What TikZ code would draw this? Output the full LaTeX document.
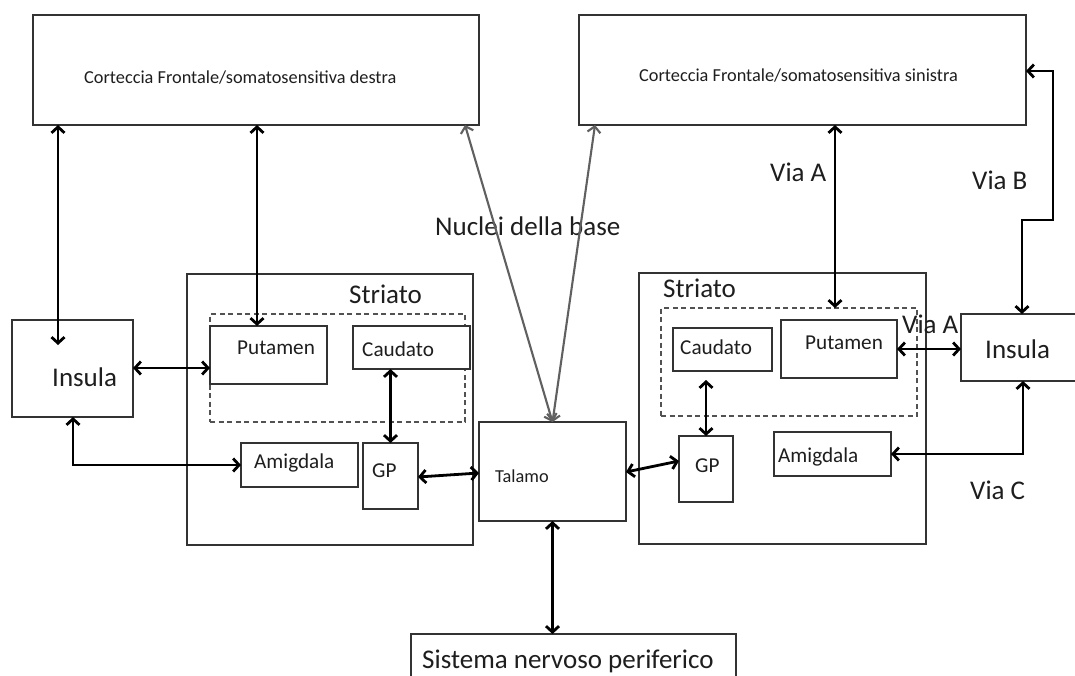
\documentclass[tikz,border=0pt]{standalone}
\usepackage{fontspec}
\setmainfont{Carlito}
\usetikzlibrary{arrows.meta}
\definecolor{boxc}{HTML}{333333}
\definecolor{txtc}{HTML}{1E1E1E}
\definecolor{grayarr}{HTML}{606060}
\begin{document}
\begin{tikzpicture}[x=1pt,y=-1pt,
  box/.style={draw=boxc,line width=1.5pt,fill=white,inner sep=0pt,outer sep=0pt},
  dbox/.style={draw=boxc!85,line width=1.6pt,dash pattern=on 5pt off 3.5pt,inner sep=0pt,outer sep=0pt},
  arr/.style={line width=2.8pt,black,{Straight Barb[length=6pt,width=13pt]}-{Straight Barb[length=6pt,width=13pt]}},
  garr/.style={line width=2.1pt,grayarr,{Straight Barb[length=6pt,width=13pt]}-{Straight Barb[length=6pt,width=13pt]}},
  lbl/.style={anchor=base west,inner sep=0pt,text=txtc},
  bigf/.style={lbl,font=\fontsize{27}{32}\selectfont},
  midf/.style={lbl,font=\fontsize{21.2}{25}\selectfont},
  smallf/.style={lbl,font=\fontsize{18.3}{22}\selectfont}]
\useasboundingbox (0,0) rectangle (1075,675);
\fill[white] (0,0) rectangle (1075,675);

% boxes
\node[box,minimum width=446pt,minimum height=110pt] (corL) at (256,70) {};
\node[box,minimum width=447pt,minimum height=110pt] (corR) at (802.5,70) {};
\node[box,minimum width=121pt,minimum height=97pt] (insL) at (72.5,368.5) {};
\node[box,minimum width=286pt,minimum height=271pt] (strL) at (330,409.5) {};
\node[dbox,minimum width=255pt,minimum height=108pt] (dashL) at (337.5,368) {};
\node[box,minimum width=117pt,minimum height=58pt] (putL) at (268.5,355) {};
\node[box,minimum width=117pt,minimum height=43pt] (caudL) at (411.5,347.5) {};
\node[box,minimum width=117pt,minimum height=44pt] (amiL) at (299.5,465) {};
\node[box,minimum width=55pt,minimum height=66pt] (gpL) at (390.5,476) {};
\node[box,minimum width=147pt,minimum height=99pt] (tal) at (552.5,471.5) {};
\node[box,minimum width=287pt,minimum height=271pt] (strR) at (782.5,408.5) {};
\node[dbox,minimum width=256pt,minimum height=108pt] (dashR) at (789,362) {};
\node[box,minimum width=99pt,minimum height=43pt] (caudR) at (722.5,349.5) {};
\node[box,minimum width=116pt,minimum height=58pt] (putR) at (839,349) {};
\node[box,minimum width=54pt,minimum height=66pt] (gpR) at (706,469) {};
\node[box,minimum width=117pt,minimum height=44pt] (amiR) at (832.5,454) {};
\node[box,minimum width=129pt,minimum height=67pt] (insR) at (1025.5,347.5) {};
\node[box,minimum width=325pt,minimum height=80pt] (sis) at (573.5,674) {};

% texts
\node[smallf] (tcorL) at (84,83) {Corteccia Frontale/somatosensitiva destra};
\node[smallf] (tcorR) at (639,81) {Corteccia Frontale/somatosensitiva sinistra};
\node[bigf] (tinsL) at (52,386) {Insula};
\node[bigf] (tstrL) at (349,303) {Striato};
\node[midf] (tputL) at (237,354) {Putamen};
\node[midf] (tcaudL) at (362,356) {Caudato};
\node[midf] (tamiL) at (254,468) {Amigdala};
\node[midf] (tgpL) at (372,477) {GP};
\node[smallf] (ttal) at (495,482) {Talamo};
\node[bigf] (tnuc) at (435,235) {Nuclei della base};
\node[bigf] (tstrR) at (663,297) {Striato};
\node[midf] (tcaudR) at (680,354) {Caudato};
\node[midf] (tputR) at (805,349) {Putamen};
\node[midf] (tgpR) at (695,472) {GP};
\node[midf] (tamiR) at (778,462) {Amigdala};
\node[bigf] (tviaA2) at (902,333) {Via A};
\node[bigf] (tinsR) at (985,358) {Insula};
\node[bigf] (tviaC) at (970,499) {Via C};
\node[bigf] (tviaB) at (972,189) {Via B};
\node[bigf] (tviaA) at (770,181) {Via A};
\node[bigf] (tsis) at (422,668) {Sistema nervoso periferico};

% free ends / bends
\coordinate (insLin) at (58,345);
\coordinate (vb1) at (1053,71);
\coordinate (vb2) at (1053,220);
\coordinate (vb3) at (1022,220);

% connectors
\draw[arr] (corL.south -| 58,0) -- (insLin);
\draw[arr] (corL.south -| 257,0) -- (putL.north -| 257,0);
\draw[arr] (insL.east |- 0,368) -- (putL.west |- 0,368);
\draw[arr] (insL.south -| 73,0) |- (amiL.west);
\draw[arr] (caudL.south -| gpL.north) -- (gpL.north);
\draw[arr] (gpL.east |- 0,477) -- (tal.west |- 0,473);
\draw[garr] (corL.south -| 465,0) -- (tal.north);
\draw[garr] (corR.south -| 595,0) -- (tal.north);
\draw[arr] (tal.east |- 0,472) -- (gpR.west |- 0,461);
\draw[arr] (tal.south) -- (sis.north -| tal.south);
\draw[arr] (gpR.north |- 0,380) -- (gpR.north);
\draw[arr] (corR.south -| 835,0) -- (dashR.north -| 835,0);
\draw[arr] (corR.east |- vb1) -- (vb1) -- (vb2) -- (vb3) -- (insR.north -| vb3);
\draw[arr] (putR.east |- 0,349) -- (insR.west |- 0,349);
\draw[arr] (insR.south -| 1023,0) |- (amiR.east);
\end{tikzpicture}
\end{document}
